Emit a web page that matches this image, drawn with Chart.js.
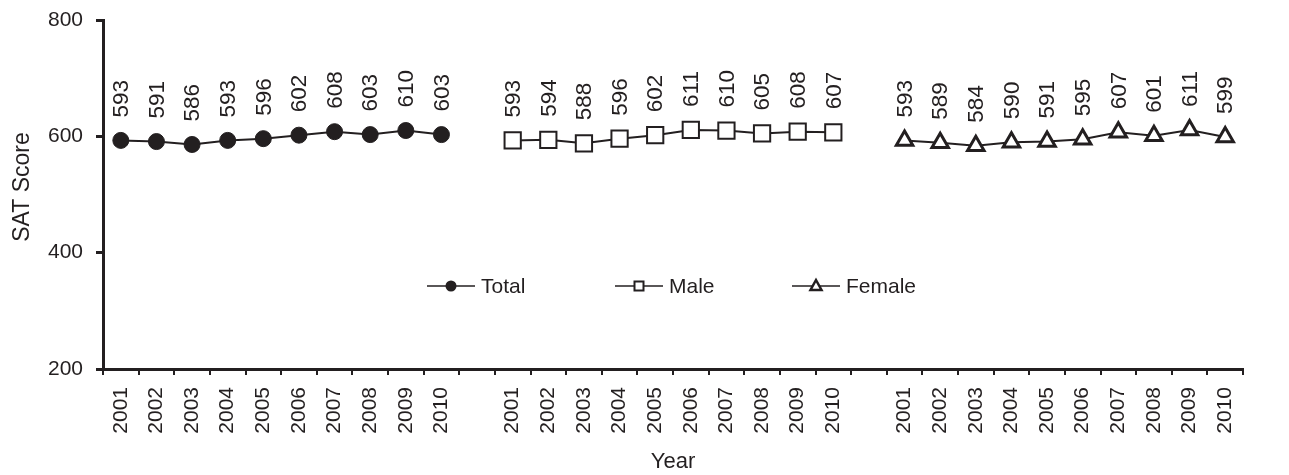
<!DOCTYPE html>
<html>
<head>
<meta charset="utf-8">
<script src="https://cdn.jsdelivr.net/npm/chart.js@4/dist/chart.umd.min.js"></script>
<style>
  html, body { margin: 0; padding: 0; background: #ffffff; }
  #wrap { width: 1289px; height: 475px; }
</style>
</head>
<body>
<div id="wrap"><canvas id="c" width="1289" height="475"></canvas></div>
<script>
// ---- data ----
const years = ['2001','2002','2003','2004','2005','2006','2007','2008','2009','2010'];
const totalScores  = [593, 591, 586, 593, 596, 602, 608, 603, 610, 603];
const maleScores   = [593, 594, 588, 596, 602, 611, 610, 605, 608, 607];
const femaleScores = [593, 589, 584, 590, 591, 595, 607, 601, 611, 599];
const yTicks = [200, 400, 600, 800];
const seriesNames = ['Total', 'Male', 'Female'];
const yTitle = 'SAT Score';
const xTitle = 'Year';

// ---- build category axis: three groups with a blank slot between ----
const labels = [...years, '', ...years, '', ...years];
const blanks = n => Array(n).fill(null);
const totalData  = [...totalScores, ...blanks(22)];
const maleData   = [...blanks(11), ...maleScores, ...blanks(11)];
const femaleData = [...blanks(22), ...femaleScores];

const INK = '#231f20';
const FONT = "'Liberation Sans', Arial, sans-serif";

const valueLabels = {
  id: 'valueLabels',
  afterDatasetsDraw(chart) {
    const ctx = chart.ctx;
    ctx.save();
    ctx.fillStyle = INK;
    ctx.font = '22.5px ' + FONT;
    ctx.textAlign = 'left';
    ctx.textBaseline = 'middle';
    chart.data.datasets.forEach((ds, i) => {
      const meta = chart.getDatasetMeta(i);
      meta.data.forEach((pt, j) => {
        const v = ds.data[j];
        if (v === null || v === undefined) return;
        ctx.save();
        ctx.translate(pt.x + 1, pt.y - 23);
        ctx.rotate(-Math.PI / 2);
        ctx.fillText(String(v), 0, 0);
        ctx.restore();
      });
    });
    ctx.restore();
  }
};

const extras = {
  id: 'extras',
  afterDraw(chart) {
    const ctx = chart.ctx;
    ctx.save();
    // y axis title
    ctx.fillStyle = INK;
    ctx.font = '23px ' + FONT;
    ctx.textAlign = 'center';
    ctx.textBaseline = 'middle';
    ctx.translate(23, 187);
    ctx.rotate(-Math.PI / 2);
    ctx.fillText(yTitle, 0, 0);
    ctx.restore();

    // legend
    const y = 286;
    const items = [
      { x: 427, style: 'circle' },
      { x: 615, style: 'rect' },
      { x: 792, style: 'triangle' }
    ];
    ctx.save();
    items.forEach((it, i) => {
      ctx.strokeStyle = INK;
      ctx.lineWidth = 1.5;
      ctx.beginPath();
      ctx.moveTo(it.x, y);
      ctx.lineTo(it.x + 48, y);
      ctx.stroke();
      const cx = it.x + 24;
      ctx.lineWidth = 2;
      if (it.style === 'circle') {
        ctx.fillStyle = INK;
        ctx.beginPath(); ctx.arc(cx, y, 5.5, 0, Math.PI * 2); ctx.fill();
      } else if (it.style === 'rect') {
        ctx.fillStyle = '#ffffff';
        ctx.fillRect(cx - 4.5, y - 4.5, 9, 9);
        ctx.strokeRect(cx - 4.5, y - 4.5, 9, 9);
      } else {
        ctx.fillStyle = '#ffffff';
        ctx.lineWidth = 2.5;
        ctx.beginPath();
        ctx.moveTo(cx, y - 6);
        ctx.lineTo(cx + 5.5, y + 4);
        ctx.lineTo(cx - 5.5, y + 4);
        ctx.closePath();
        ctx.fill(); ctx.stroke();
      }
      ctx.fillStyle = INK;
      ctx.font = '21px ' + FONT;
      ctx.textAlign = 'left';
      ctx.textBaseline = 'middle';
      ctx.fillText(seriesNames[i], it.x + 54, y + 1);
    });
    ctx.restore();
  }
};

new Chart(document.getElementById('c'), {
  type: 'line',
  data: {
    labels: labels,
    datasets: [
      { label: seriesNames[0], data: totalData, borderColor: INK, borderWidth: 2,
        pointStyle: 'circle', pointRadius: 8, pointBackgroundColor: INK, pointBorderColor: INK,
        pointBorderWidth: 1, spanGaps: false },
      { label: seriesNames[1], data: maleData, borderColor: INK, borderWidth: 2,
        pointStyle: 'rect', pointRadius: 11.5, pointBackgroundColor: '#ffffff', pointBorderColor: INK,
        pointBorderWidth: 2, spanGaps: false },
      { label: seriesNames[2], data: femaleData, borderColor: INK, borderWidth: 2,
        pointStyle: 'triangle', pointRadius: 9.5, pointBackgroundColor: '#ffffff', pointBorderColor: INK,
        pointBorderWidth: 3, spanGaps: false }
    ]
  },
  options: {
    responsive: false,
    animation: false,
    events: [],
    layout: { padding: { top: 20, right: 46, bottom: 0, left: 0 } },
    plugins: {
      legend: { display: false },
      tooltip: { enabled: false }
    },
    scales: {
      x: {
        type: 'category',
        offset: true,
        border: { display: true, color: INK, width: 3 },
        grid: { display: true, offset: true, drawOnChartArea: false, drawTicks: true,
                tickLength: 6, color: INK, lineWidth: 2 },
        ticks: { autoSkip: false, maxRotation: 90, minRotation: 90, padding: 12,
                 color: INK, font: { family: FONT, size: 21 } },
        title: { display: true, text: xTitle, color: INK, font: { family: FONT, size: 22 },
                 padding: { top: 0, bottom: 0 } },
        afterFit(scale) { scale.height = 106; scale.paddingLeft = 0; scale.paddingRight = 0; }
      },
      y: {
        min: 200, max: 800,
        afterBuildTicks(scale) { scale.ticks = yTicks.map(v => ({ value: v })); },
        border: { display: true, color: INK, width: 3 },
        grid: { display: true, drawOnChartArea: false, drawTicks: true, tickLength: 7,
                color: INK, lineWidth: 3 },
        ticks: { padding: 13, color: INK, font: { family: FONT, size: 21 } },
        title: { display: false },
        afterFit(scale) { scale.width = 103; scale.paddingTop = 0; scale.paddingBottom = 0; }
      }
    }
  },
  plugins: [valueLabels, extras]
});
</script>
</body>
</html>
